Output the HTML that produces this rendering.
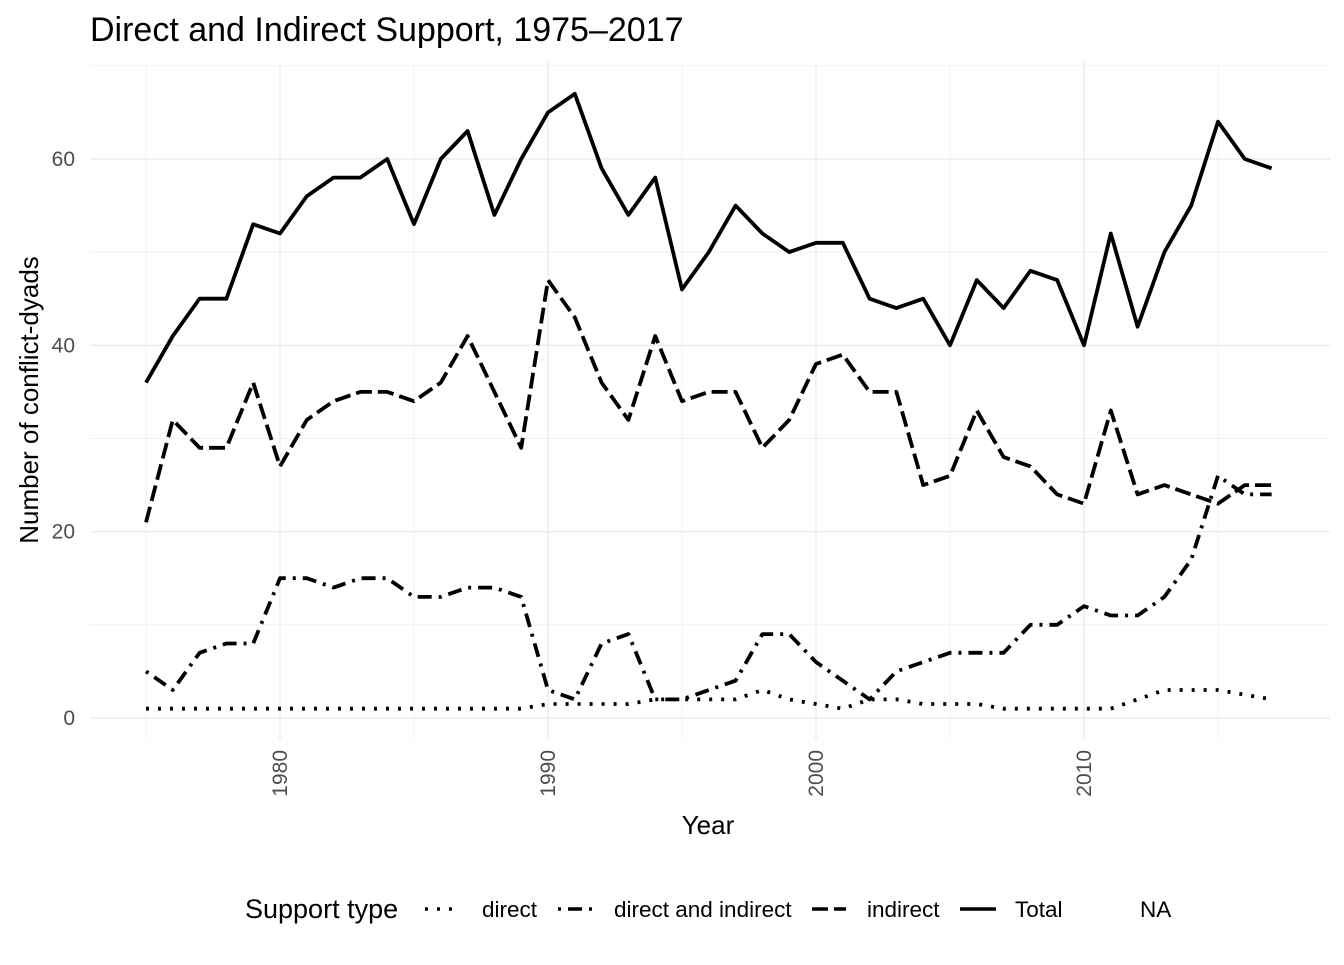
<!DOCTYPE html>
<html><head><meta charset="utf-8"><style>
body{margin:0;background:#fff;font-family:"Liberation Sans",Arial,sans-serif}
</style></head><body>
<svg id="chart" width="1344" height="960" xmlns="http://www.w3.org/2000/svg">
<text x="90" y="41" font-size="34" fill="#000">Direct and Indirect Support, 1975–2017</text>
<g id="grid"></g>
<g id="series"></g>
<g id="axes"></g>
<text x="708" y="834" font-size="26" text-anchor="middle">Year</text>
<text transform="translate(38,400) rotate(-90)" font-size="26" text-anchor="middle">Number of conflict-dyads</text>
<g id="legend">
<text x="245" y="918" font-size="27">Support type</text>
<line x1="425" y1="909" x2="458" y2="909" stroke="#000" stroke-width="3.5" stroke-dasharray="3,9"/>
<text x="482" y="917" font-size="22.5">direct</text>
<line x1="558" y1="909" x2="595" y2="909" stroke="#000" stroke-width="3.5" stroke-dasharray="3,7,14,7"/>
<text x="614" y="917" font-size="22.5">direct and indirect</text>
<line x1="812" y1="909" x2="846" y2="909" stroke="#000" stroke-width="3.5" stroke-dasharray="16,6"/>
<text x="867" y="917" font-size="22.5">indirect</text>
<line x1="960" y1="909" x2="996" y2="909" stroke="#000" stroke-width="3.5"/>
<text x="1015" y="917" font-size="22.5">Total</text>
<text x="1140" y="917" font-size="22.5">NA</text>
</g>
</svg>
<script>
const years=[];for(let y=1975;y<=2017;y++)years.push(y);
const totalVals=[36,41,45,45,53,52,56,58,58,60,53,60,63,54,60,65,67,59,54,58,46,50,55,52,50,51,51,45,44,45,40,47,44,48,47,40,52,42,50,55,64,60,59];
const indirectVals=[21,32,29,29,36,27,32,34,35,35,34,36,41,35,29,47,43,36,32,41,34,35,35,29,32,38,39,35,35,25,26,33,28,27,24,23,33,24,25,24,23,25,25];
const bothVals=[5,3,7,8,8,15,15,14,15,15,13,13,14,14,13,3,2,8,9,2,2,3,4,9,9,6,4,2,5,6,7,7,7,10,10,12,11,11,13,17,26,24,24];
const directVals=[1,1,1,1,1,1,1,1,1,1,1,1,1,1,1,1.5,1.5,1.5,1.5,2,2,2,2,3,2,1.5,1,2,2,1.5,1.5,1.5,1,1,1,1,1,2,3,3,3,2.5,2];
const xTicks=[1980,1990,2000,2010];
const yTicks=[0,20,40,60];
const NS="http://www.w3.org/2000/svg";
const xs=y=>146+(y-1975)*26.8;
const ys=v=>718-v*9.317;
const L=90,R=1330,T=62,B=740;
function mk(tag,attrs,parent){const e=document.createElementNS(NS,tag);for(const k in attrs)e.setAttribute(k,attrs[k]);parent.appendChild(e);return e;}
const grid=document.getElementById('grid'),axes=document.getElementById('axes'),ser=document.getElementById('series');
for(let v=0;v<=70;v+=10){const l=mk('line',{x1:L,x2:R,y1:ys(v),y2:ys(v),stroke:'#ebebeb','stroke-width':v%20==0?1.4:0.7},grid);

}
for(let y=1975;y<=2020;y+=5){const l=mk('line',{x1:xs(y),x2:xs(y),y1:T,y2:B,stroke:'#ebebeb','stroke-width':y%10==0?1.4:0.7},grid);

}
yTicks.forEach(v=>{const t=mk('text',{x:75,y:ys(v)+7,'font-size':21,fill:'#4d4d4d','text-anchor':'end'},axes);t.textContent=v;

});
xTicks.forEach(y=>{const t=mk('text',{transform:`translate(${xs(y)+7},750) rotate(-90)`,'font-size':21,fill:'#4d4d4d','text-anchor':'end'},axes);t.textContent=y;

});
function line(vals,dash,name){const d=vals.map((v,i)=>(i?'L':'M')+xs(years[i]).toFixed(1)+','+ys(v).toFixed(1)).join('');
const p=mk('path',{d:d,fill:'none',stroke:'#000','stroke-width':3.8,'stroke-linejoin':'round'},ser);
if(dash)p.setAttribute('stroke-dasharray',dash);

}
line(directVals,'3,9','line-direct');
line(bothVals,'3,7,14,7','line-direct-and-indirect');
line(indirectVals,'16,6','line-indirect');
line(totalVals,null,'line-total');
</script>
</body></html>
